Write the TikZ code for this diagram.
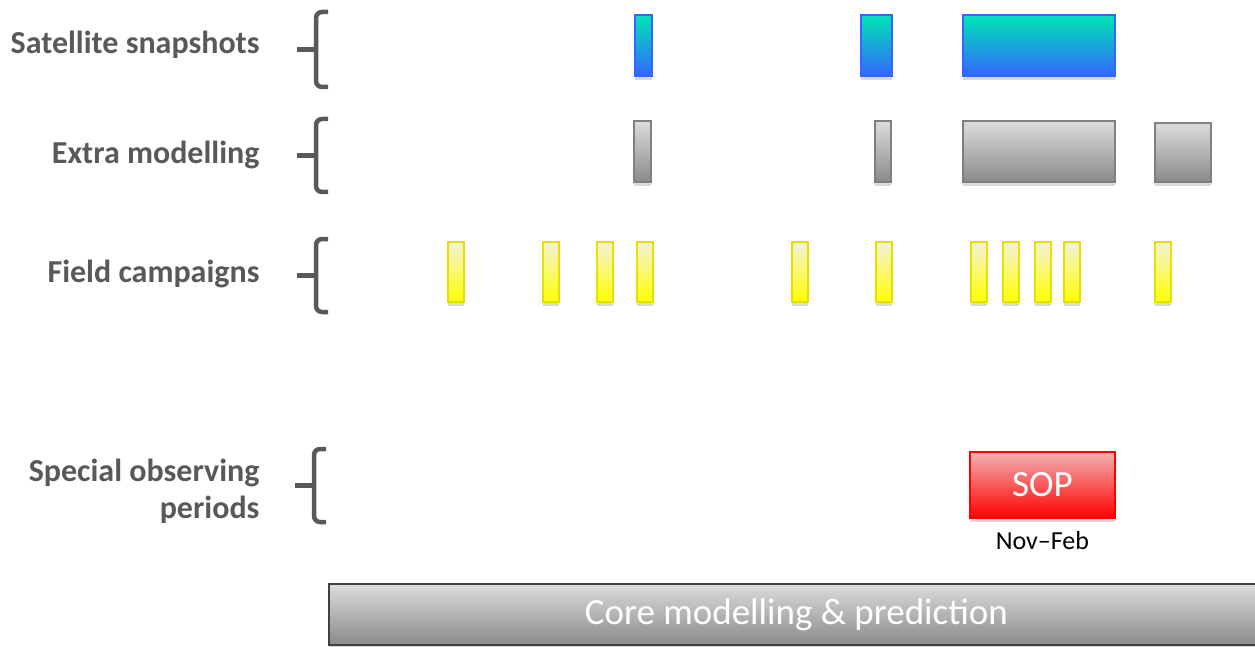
\documentclass[tikz,border=0pt]{standalone}
\usepackage{fontspec}
\setmainfont{Carlito}
\usetikzlibrary{shadows}
\definecolor{lbl}{HTML}{595959}
\definecolor{satTop}{HTML}{00E6B4}
\definecolor{satBot}{HTML}{3366FF}
\definecolor{grTop}{HTML}{DCDCDC}
\definecolor{grBot}{HTML}{8A8A8A}
\definecolor{grLine}{HTML}{808080}
\definecolor{yeTop}{HTML}{F3F2D8}
\definecolor{yeBot}{HTML}{FFFF00}
\definecolor{yeLine}{HTML}{E5E000}
\definecolor{redTop}{HTML}{F2B2B2}
\definecolor{redBot}{HTML}{FF0000}
\definecolor{coreLine}{HTML}{404040}
\tikzset{
  bar/.style={rectangle, inner sep=0pt, anchor=north west, line width=1.8pt,
    drop shadow={shadow xshift=0pt, shadow yshift=-4pt, opacity=0.15, fill=black}},
  sat/.style={bar, draw=satBot, top color=satTop, bottom color=satBot},
  grey/.style={bar, draw=grLine, top color=grTop, bottom color=grBot},
  yel/.style={bar, draw=yeLine, top color=yeTop, bottom color=yeBot},
  sopbox/.style={bar, draw=redBot, top color=redTop, bottom color=redBot, text=white, font=\fontsize{37}{40}\selectfont},
  corebox/.style={bar, draw=coreLine, top color=grTop, bottom color=grBot, text=white, font=\fontsize{37}{40}\selectfont},
  lab/.style={anchor=east, text=lbl, font=\bfseries\fontsize{32}{37}\selectfont, align=right},
  brace/.style={draw=lbl, line width=4.5pt, rounded corners=6pt}
}
\newcommand{\bx}[6]{\node[#1, minimum width=#4pt, minimum height=#5pt] (#6) at (#2,#3) {};}
\begin{document}
\begin{tikzpicture}[x=1pt,y=-1pt]
\useasboundingbox[fill=white] (0,0) rectangle (1255,647);

% labels
\node[lab] (l1) at (263,45) {Satellite snapshots};
\node[lab] (l2) at (263,155) {Extra modelling};
\node[lab] (l3) at (263,274) {Field campaigns};
\node[lab] (l4) at (263,491) {Special observing\\ periods};

% braces
\foreach \t/\b/\x in {12/87/316, 119/192/316, 239/312/316, 449/522/314}{
  \draw[brace] (\x+12,\t) -- (\x,\t) -- (\x,\b) -- (\x+12,\b);
  \draw[draw=lbl, line width=4.5pt] (\x,{(\t+\b)/2}) -- (\x-19,{(\t+\b)/2});
}

% satellite snapshots
\bx{sat}{634}{14}{17}{61}{s1}
\bx{sat}{860}{14}{31}{61}{s2}
\bx{sat}{962}{14}{152}{61}{s3}

% extra modelling
\bx{grey}{633}{120}{17}{61}{e1}
\bx{grey}{874}{120}{16}{61}{e2}
\bx{grey}{962}{120}{152}{61}{e3}
\bx{grey}{1154}{122}{56}{59}{e4}

% field campaigns
\foreach \x [count=\i] in {447,542,596,636,791,875,970,1002,1034,1063,1154}{
  \bx{yel}{\x}{241}{16}{60}{f\i}
}

% SOP
\node[sopbox, minimum width=145pt, minimum height=66pt] (sop) at (969,451) {SOP};
\node[font=\fontsize{26}{30}\selectfont, anchor=north] (nf) at (sop.south) [yshift=-9pt] {Nov–Feb};

% core
\node[corebox, minimum width=935pt, minimum height=61pt, anchor=north west] (core) at (328,583) {Core modelling \& prediction};
\end{tikzpicture}
\end{document}
